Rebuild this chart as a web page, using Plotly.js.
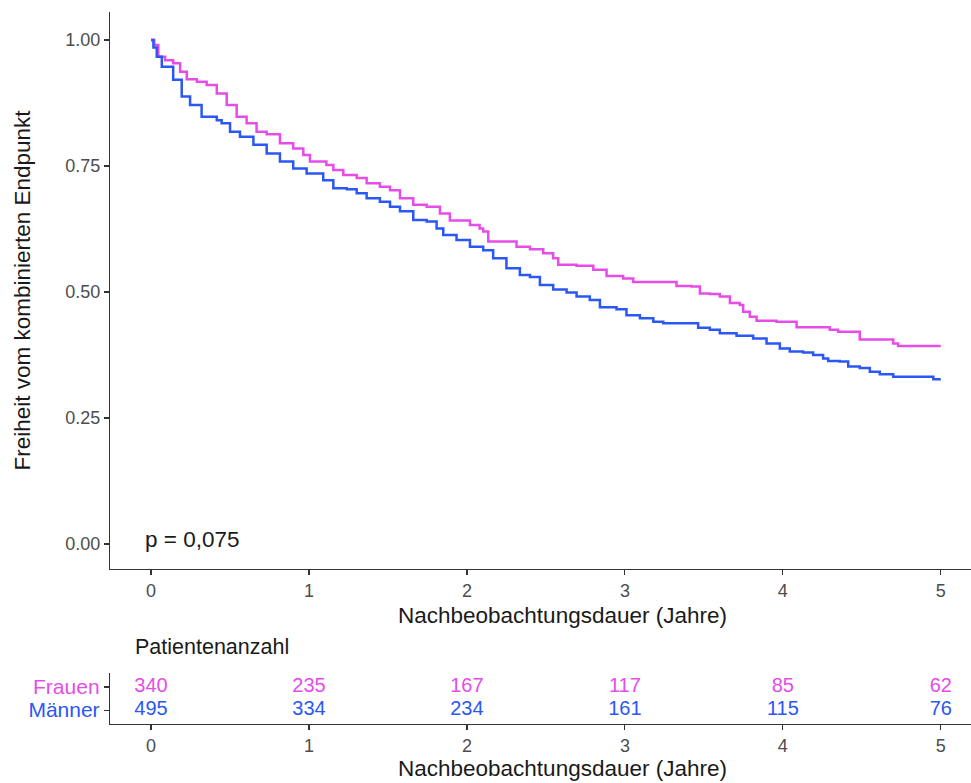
<!DOCTYPE html>
<html>
<head>
<meta charset="utf-8">
<script src="https://cdn.plot.ly/plotly-3.0.1.min.js"></script>
<style>
html, body { margin:0; padding:0; overflow:hidden; background:#fff; width:971px; height:783px; }
#chart { width:1015px; height:783px; }
</style>
</head>
<body>
<div id="chart"></div>
<script>
// Kaplan-Meier step data
const frauenTime = [0, 0.02, 0.046, 0.089, 0.14, 0.184, 0.226, 0.29, 0.352, 0.416, 0.479, 0.542, 0.605, 0.668, 0.732, 0.816, 0.9, 0.964, 1.006, 1.11, 1.154, 1.217, 1.302, 1.365, 1.449, 1.513, 1.576, 1.66, 1.745, 1.829, 1.892, 2.019, 2.08, 2.103, 2.135, 2.25, 2.314, 2.399, 2.483, 2.546, 2.578, 2.694, 2.8, 2.884, 2.989, 3.053, 3.285, 3.327, 3.422, 3.475, 3.538, 3.601, 3.665, 3.728, 3.749, 3.791, 3.834, 3.96, 4.087, 4.297, 4.35, 4.487, 4.699, 4.73, 5.0];
const frauenSurv = [1.0, 0.99, 0.967, 0.96, 0.954, 0.937, 0.922, 0.917, 0.911, 0.894, 0.871, 0.848, 0.835, 0.818, 0.813, 0.795, 0.785, 0.772, 0.759, 0.752, 0.742, 0.732, 0.726, 0.716, 0.709, 0.702, 0.686, 0.673, 0.669, 0.656, 0.642, 0.633, 0.626, 0.62, 0.6, 0.6, 0.59, 0.585, 0.577, 0.567, 0.554, 0.552, 0.544, 0.532, 0.527, 0.52, 0.52, 0.512, 0.511, 0.497, 0.496, 0.491, 0.478, 0.474, 0.461, 0.451, 0.443, 0.441, 0.43, 0.425, 0.421, 0.406, 0.398, 0.393, 0.393];

const maennerTime = [0, 0.015, 0.036, 0.068, 0.14, 0.194, 0.247, 0.32, 0.416, 0.447, 0.5, 0.563, 0.648, 0.732, 0.816, 0.9, 0.985, 1.09, 1.154, 1.239, 1.302, 1.365, 1.449, 1.513, 1.576, 1.66, 1.745, 1.808, 1.85, 1.934, 2.019, 2.103, 2.166, 2.25, 2.335, 2.399, 2.462, 2.546, 2.631, 2.694, 2.778, 2.842, 2.947, 3.01, 3.095, 3.18, 3.243, 3.464, 3.538, 3.601, 3.707, 3.812, 3.897, 3.981, 4.044, 4.128, 4.192, 4.255, 4.287, 4.361, 4.414, 4.487, 4.551, 4.614, 4.699, 4.953, 5.0];
const maennerSurv = [1.0, 0.985, 0.967, 0.947, 0.921, 0.888, 0.871, 0.848, 0.841, 0.835, 0.818, 0.808, 0.792, 0.775, 0.759, 0.745, 0.735, 0.722, 0.706, 0.704, 0.696, 0.686, 0.679, 0.669, 0.66, 0.643, 0.64, 0.626, 0.613, 0.603, 0.59, 0.583, 0.567, 0.547, 0.534, 0.53, 0.514, 0.505, 0.499, 0.491, 0.484, 0.47, 0.466, 0.454, 0.448, 0.441, 0.438, 0.429, 0.425, 0.418, 0.413, 0.408, 0.398, 0.388, 0.382, 0.38, 0.375, 0.368, 0.363, 0.362, 0.352, 0.349, 0.342, 0.337, 0.332, 0.327, 0.327];

// Risk table
const riskTimes = [0, 1, 2, 3, 4, 5];
const frauenAtRisk = [340, 235, 167, 117, 85, 62];
const maennerAtRisk = [495, 334, 234, 161, 115, 76];
const groupNames = ["Frauen", "Männer"];

const xTicks = [0, 1, 2, 3, 4, 5];
const yTicks = [0, 0.25, 0.5, 0.75, 1.0];
const yTickText = ["0.00", "0.25", "0.50", "0.75", "1.00"];

const pink = '#E64CE8';
const blue = '#2B57F2';
const font = 'Liberation Sans, Arial, sans-serif';

const traces = [
  { x: frauenTime, y: frauenSurv, type: 'scatter', mode: 'lines', line: {shape: 'hv', color: pink, width: 2.5}, name: groupNames[0], xaxis: 'x', yaxis: 'y' },
  { x: maennerTime, y: maennerSurv, type: 'scatter', mode: 'lines', line: {shape: 'hv', color: blue, width: 2.5}, name: groupNames[1], xaxis: 'x', yaxis: 'y' },
  { x: riskTimes, y: riskTimes.map(() => 1), text: frauenAtRisk.map(String), type: 'scatter', mode: 'text', textfont: {color: pink, size: 20, family: font}, xaxis: 'x2', yaxis: 'y2' },
  { x: riskTimes, y: riskTimes.map(() => 0), text: maennerAtRisk.map(String), type: 'scatter', mode: 'text', textfont: {color: blue, size: 20, family: font}, xaxis: 'x2', yaxis: 'y2' }
];

const axisCommon = {
  showgrid: false, zeroline: false, showline: true, linecolor: '#333', linewidth: 1.2,
  ticks: 'outside', ticklen: 5, tickcolor: '#333', tickwidth: 1.2,
  tickfont: {family: font, size: 18, color: '#4D4D4D'}
};

const titleFont = {family: font, size: 22.5, color: '#1a1a1a'};

const layout = {
  width: 1015, height: 783,
  margin: {l: 110, r: 0, t: 12, b: 59},
  paper_bgcolor: '#fff', plot_bgcolor: '#fff',
  showlegend: false,
  font: {family: font},
  xaxis: Object.assign({}, axisCommon, {
    domain: [0, 1], range: [-0.26, 5.47], tickvals: xTicks, anchor: 'y',
    title: {text: 'Nachbeobachtungsdauer (Jahre)', font: titleFont, standoff: 7}
  }),
  yaxis: Object.assign({}, axisCommon, {
    domain: [0.2177, 1], range: [-0.0496, 1.0556], tickvals: yTicks, ticktext: yTickText, anchor: 'x',
    title: {text: 'Freiheit vom kombinierten Endpunkt', font: titleFont, standoff: 28}
  }),
  xaxis2: Object.assign({}, axisCommon, {
    domain: [0, 1], range: [-0.26, 5.47], tickvals: xTicks, anchor: 'y2',
    title: {text: 'Nachbeobachtungsdauer (Jahre)', font: titleFont, standoff: 5}
  }),
  yaxis2: Object.assign({}, axisCommon, {
    domain: [0, 0.0716], range: [-0.6, 1.6], tickvals: [1, 0], anchor: 'x2',
    ticktext: ['<span style="color:' + pink + '">' + groupNames[0] + '</span>', '<span style="color:' + blue + '">' + groupNames[1] + '</span>'],
    tickfont: {family: font, size: 21, color: '#4D4D4D'}
  }),
  annotations: [
    { text: 'p = 0,075', x: -0.05, y: 0.008, xref: 'x', yref: 'y', xanchor: 'left', yanchor: 'middle', showarrow: false, font: {family: font, size: 22.5, color: '#1a1a1a'} },
    { text: 'Patientenanzahl', x: 133, y: 647, xref: 'paper', yref: 'paper', showarrow: false, font: {family: font, size: 21.5, color: '#1a1a1a'}, xanchor: 'left', yanchor: 'middle' }
  ]
};
// position "Patientenanzahl" in paper coords from pixel location
(function() {
  const plotW = 1015 - 110, plotH = 783 - 12 - 59;
  const a = layout.annotations[1];
  a.x = (133 - 110) / plotW;
  a.y = (783 - 59 - 647) / plotH;
})();

Plotly.newPlot('chart', traces, layout, {displayModeBar: false, staticPlot: true});
</script>
</body>
</html>
